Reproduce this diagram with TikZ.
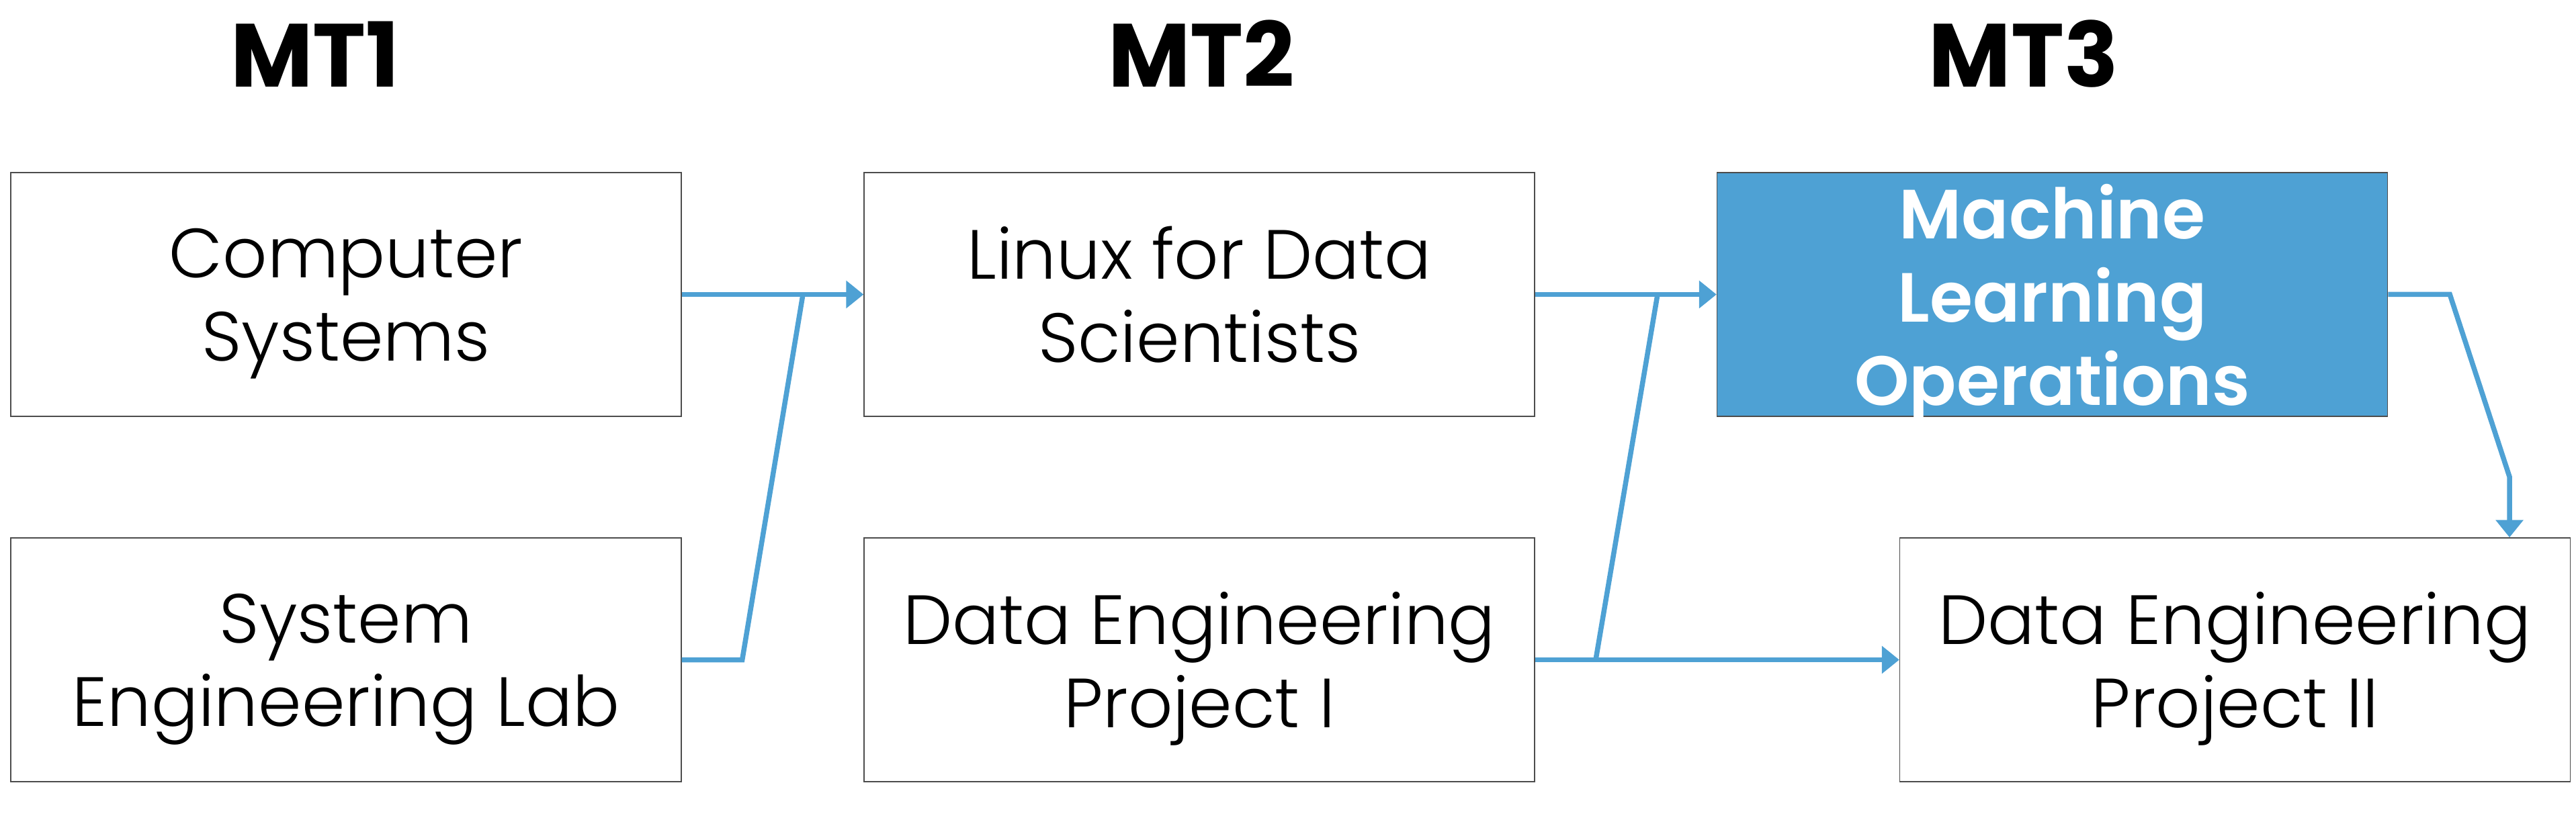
\documentclass[tikz,border=0pt]{standalone}
\usepackage{fontspec}
\setmainfont{Poppins}
\newfontfamily\boxfont{Poppins}[UprightFont={* Light}, BoldFont={* SemiBold}]
\usetikzlibrary{arrows.meta}
\definecolor{mtblue}{RGB}{78,161,212}

\begin{document}
\begin{tikzpicture}[
        course/.style={draw=black!70, line width=0.4pt, fill=white, minimum width=9.98cm, minimum height=3.63cm, inner sep=0pt, text depth=0pt, align=center, font=\boxfont\fontsize{29.5}{35.3}\selectfont},
        core/.style={course, fill=mtblue, text=white, font=\boxfont\fontsize{29.5}{35.3}\selectfont\bfseries},
        term/.style={anchor=base, font=\fontsize{38}{44}\selectfont\bfseries},
        link/.style={draw=mtblue, line width=0.075cm},
        arr/.style={link, -{Triangle[length=0.26cm,width=0.4cm]}}
    ]
        \useasboundingbox (0,0) rectangle (38.34,12.32);

        \node[term] (mt1) at (4.69, 11.02) {MT1};
        \node[term] (mt2) at (17.88, 11.02) {MT2};
        \node[term] (mt3) at (30.12, 11.02) {MT3};

        \node[course] (cs) at (5.15, 7.935) {Computer\\Systems};
        \node[course] (sel) at (5.15, 2.495) {System\\Engineering Lab};

        \node[course] (lds) at (17.85, 7.935) {Linux for Data\\Scientists};
        \node[course] (dep1) at (17.85, 2.495) {Data Engineering\\Project I};

        \node[core] (mlops) at (30.545, 7.935) {Machine\\Learning\\Operations};
        \node[course] (dep2) at (33.265, 2.495) {Data Engineering\\Project II};

        \coordinate (j1) at (11.95, 7.935);
        \coordinate (j2) at (24.67, 7.935);
        \coordinate (k2) at (23.75, 2.495);
        \coordinate (k3) at (37.35, 5.22);

        \draw[arr] (cs.east) -- (lds.west);
        \draw[link] (sel.east) -- ++(0.9,0) -- (j1);

        \draw[arr] (lds.east) -- (mlops.west);
        \draw[arr] (dep1.east) -- (dep2.west);
        \draw[link] (k2) -- (j2);

        \draw[arr] (mlops.east) -- ++(0.92,0) -- (k3) -- (k3 |- dep2.north);

    \end{tikzpicture}
\end{document}
